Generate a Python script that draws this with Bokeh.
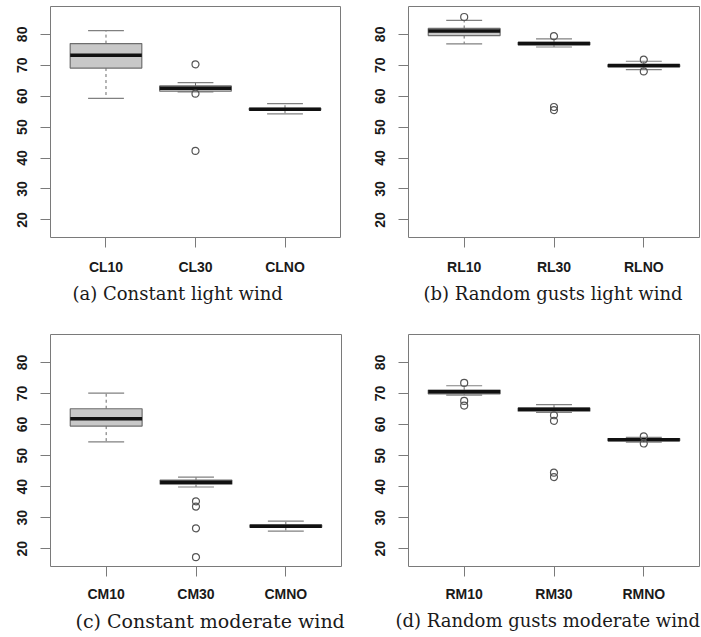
from bokeh.plotting import figure
from bokeh.layouts import column, row
from bokeh.models import ColumnDataSource, FixedTicker, Title, FactorRange, Range1d
from bokeh.transform import dodge
from bokeh.embed import file_html
from bokeh.resources import INLINE

# ---------------- data ----------------
cats_a = ["CL10", "CL30", "CLNO"]
q1_a = [69.1, 61.6, 55.5]
med_a = [73.2, 62.6, 55.8]
q3_a = [77.0, 63.3, 56.1]
lo_a = [59.3, 61.4, 54.3]
hi_a = [81.2, 64.4, 57.6]
out_cat_a = ["CL30", "CL30", "CL30"]
out_val_a = [70.3, 60.8, 42.3]

cats_b = ["RL10", "RL30", "RLNO"]
q1_b = [79.6, 76.6, 69.5]
med_b = [81.1, 77.0, 69.9]
q3_b = [81.9, 77.4, 70.2]
lo_b = [76.9, 75.9, 68.6]
hi_b = [84.5, 78.5, 71.3]
out_cat_b = ["RL10", "RL30", "RL30", "RL30", "RLNO", "RLNO"]
out_val_b = [85.6, 79.4, 56.5, 55.5, 71.8, 68.0]

cats_c = ["CM10", "CM30", "CMNO"]
q1_c = [59.5, 40.8, 26.9]
med_c = [61.9, 41.4, 27.3]
q3_c = [65.1, 42.1, 27.7]
lo_c = [54.4, 39.9, 25.7]
hi_c = [70.1, 43.1, 28.9]
out_cat_c = ["CM30", "CM30", "CM30", "CM30"]
out_val_c = [35.3, 33.6, 26.6, 17.3]

cats_d = ["RM10", "RM30", "RMNO"]
q1_d = [69.9, 64.3, 54.8]
med_d = [70.6, 64.9, 55.1]
q3_d = [71.1, 65.3, 55.5]
lo_d = [69.5, 63.9, 54.3]
hi_d = [72.5, 66.4, 55.9]
out_cat_d = ["RM10", "RM10", "RM10", "RM30", "RM30", "RM30", "RM30", "RMNO", "RMNO"]
out_val_d = [73.4, 67.6, 66.1, 63.0, 61.2, 44.5, 43.1, 56.2, 53.9]

y_ticks = [20, 30, 40, 50, 60, 70, 80]
captions = ["(a) Constant light wind", "(b) Random gusts light wind",
            "(c) Constant moderate wind", "(d) Random gusts moderate wind"]

# ---------------- styling ----------------
FRAME = "#7a7a7a"
BOX_FILL = "#c8c8c8"
BOX_LINE = "#6e6e6e"
WHISK = "#6a6a6a"
CAP = "#808080"
TXT = "#1a1a1a"


def make_panel(cats, q1, med, q3, lo, hi, out_cat, out_val, caption,
               width, height, bl, br, bt, bb, cap_offset, cap_size,
               x_standoff, cap_standoff):
    p = figure(width=width, height=height, output_backend="svg",
               toolbar_location=None, tools="",
               x_range=FactorRange(*cats, range_padding=0.08),
               y_range=Range1d(14.3, 89.0),
               min_border_left=bl, min_border_right=br,
               min_border_top=bt, min_border_bottom=bb)
    p.background_fill_color = "white"
    p.border_fill_color = "white"
    p.outline_line_color = FRAME
    p.outline_line_width = 1
    p.xgrid.grid_line_color = None
    p.ygrid.grid_line_color = None

    src = ColumnDataSource(dict(cat=cats, q1=q1, med=med, q3=q3, lo=lo, hi=hi))
    # whiskers
    p.segment(x0="cat", x1="cat", y0="q3", y1="hi", source=src,
              line_color=WHISK, line_width=1, line_dash="3 3")
    p.segment(x0="cat", x1="cat", y0="q1", y1="lo", source=src,
              line_color=WHISK, line_width=1, line_dash="3 3")
    # staples
    for col in ("hi", "lo"):
        p.segment(x0=dodge("cat", -0.2, range=p.x_range),
                  x1=dodge("cat", 0.2, range=p.x_range),
                  y0=col, y1=col, source=src, line_color=CAP, line_width=1.2)
    # boxes
    p.vbar(x="cat", width=0.8, bottom="q1", top="q3", source=src,
           fill_color=BOX_FILL, line_color=BOX_LINE, line_width=1.2)
    # medians
    p.segment(x0=dodge("cat", -0.4, range=p.x_range),
              x1=dodge("cat", 0.4, range=p.x_range),
              y0="med", y1="med", source=src, line_color="#111111",
              line_width=3.5)
    # outliers
    p.scatter(x=out_cat, y=out_val, marker="circle", size=7,
              fill_color=None, line_color="#555555", line_width=1.2)

    # axes
    for ax in (p.xaxis[0], p.yaxis[0]):
        ax.axis_line_color = None
        ax.major_tick_line_color = FRAME
        ax.major_tick_in = 0
        ax.major_tick_out = 10
        ax.minor_tick_line_color = None
        ax.major_label_text_font = "Liberation Sans"
        ax.major_label_text_font_style = "bold"
        ax.major_label_text_color = TXT
    p.xaxis.major_label_text_font_size = "14px"
    p.xaxis.major_label_standoff = x_standoff
    p.yaxis.ticker = FixedTicker(ticks=y_ticks)
    p.yaxis.major_label_text_font_size = "14px"
    p.yaxis.major_label_orientation = "vertical"
    p.yaxis.major_label_standoff = 13

    t = Title(text=caption, align="left", offset=cap_offset,
              text_font="DejaVu Serif", text_font_size=cap_size,
              text_font_style="normal", text_color=TXT, standoff=cap_standoff)
    p.add_layout(t, "below")
    return p


pa = make_panel(cats_a, q1_a, med_a, q3_a, lo_a, hi_a, out_cat_a, out_val_a,
                captions[0], 350, 320, 50, 10, 6, 83, 22, "18px", 11, 7)
pb = make_panel(cats_b, q1_b, med_b, q3_b, lo_b, hi_b, out_cat_b, out_val_b,
                captions[1], 351, 320, 58, 2, 6, 83, 15, "18px", 11, 7)
pc = make_panel(cats_c, q1_c, med_c, q3_c, lo_c, hi_c, out_cat_c, out_val_c,
                captions[2], 350, 317, 50, 9, 13, 71, 25, "19px", 9, 6)
pd = make_panel(cats_d, q1_d, med_d, q3_d, lo_d, hi_d, out_cat_d, out_val_d,
                captions[3], 351, 317, 58, 2, 14, 71, -13, "18px", 9, 6)

layout = column(row(pa, pb, spacing=0), row(pc, pd, spacing=0), spacing=0)

open("out.html", "w").write(file_html(layout, INLINE))
